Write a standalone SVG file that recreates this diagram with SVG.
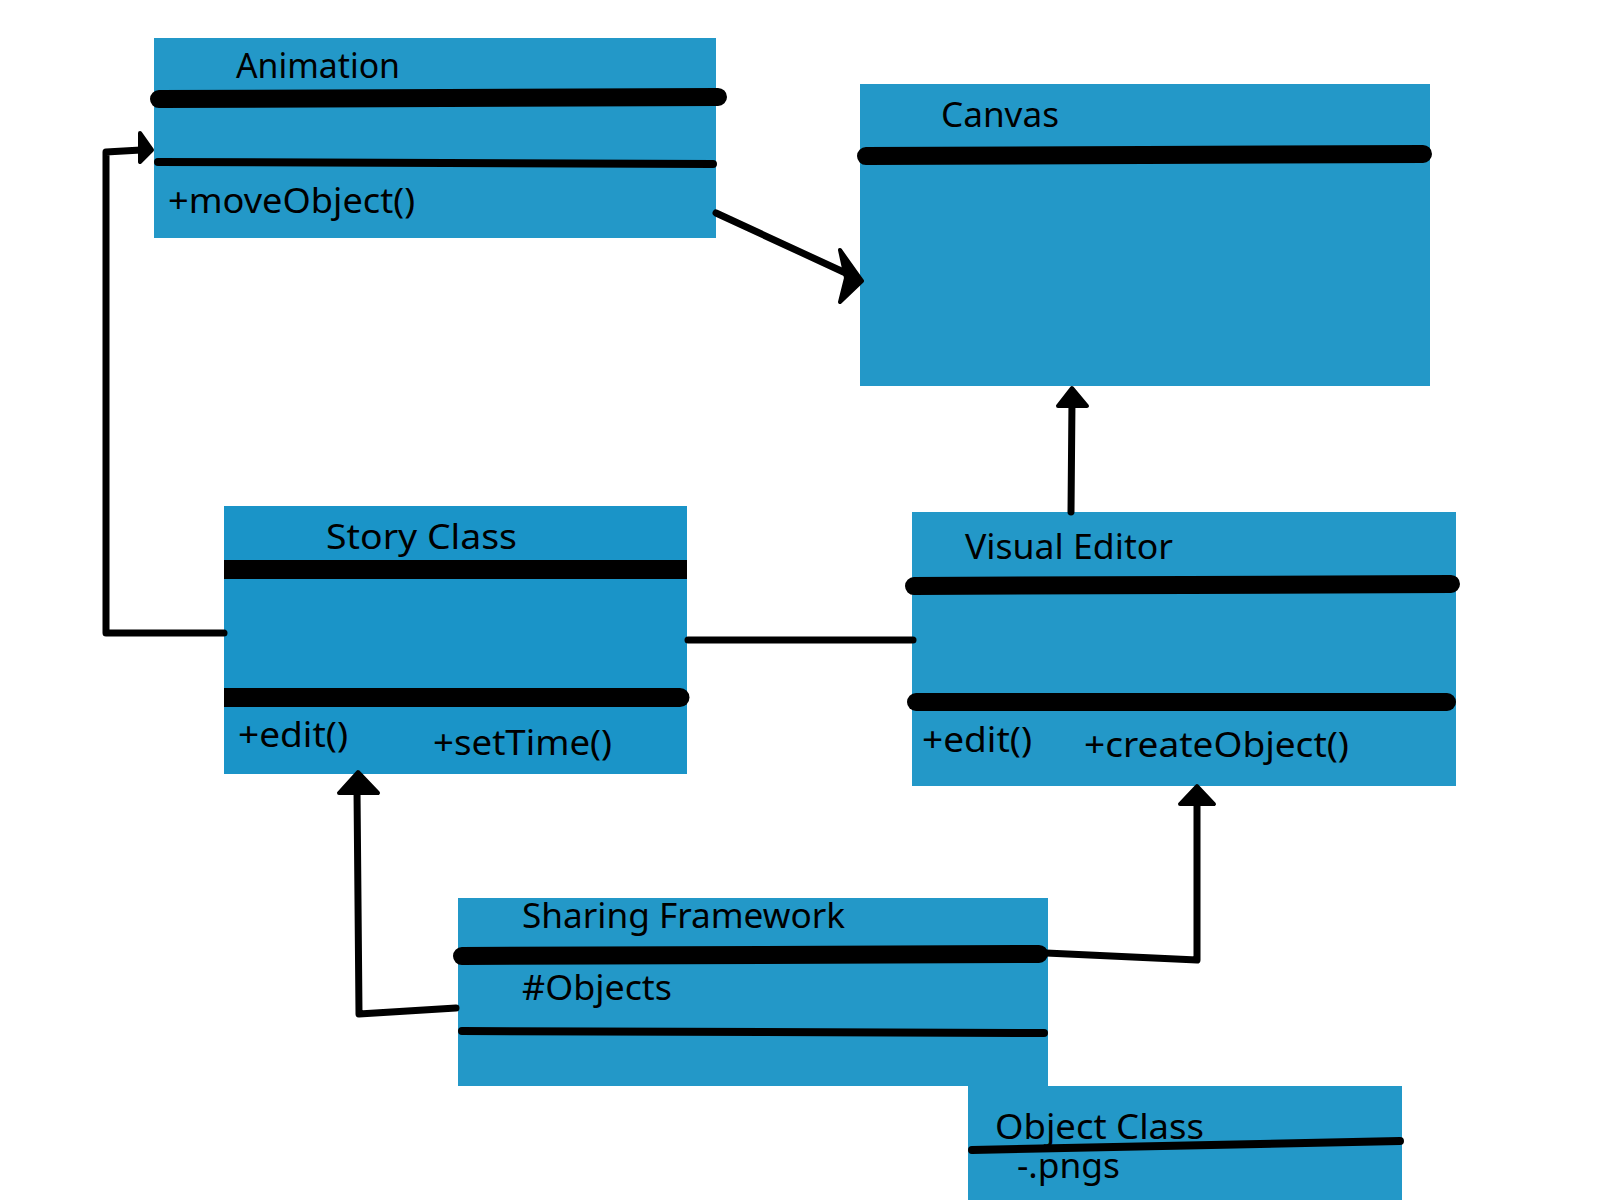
<svg xmlns="http://www.w3.org/2000/svg" width="1600" height="1200" viewBox="0 0 1600 1200">
<style>
.box{fill:#2398c8}
.box2{fill:#1a94c8}
.t{font-family:"Noto Sans","DejaVu Sans",sans-serif;font-size:35px;fill:#000}
.thick{stroke:#000;stroke-width:18;stroke-linecap:round;fill:none}
.thin{stroke:#000;stroke-width:8;stroke-linecap:round;fill:none}
.conn{stroke:#000;stroke-width:7;stroke-linecap:round;stroke-linejoin:round;fill:none}
.head{fill:#000;stroke:#000;stroke-width:4;stroke-linejoin:round}
</style>
<rect width="1600" height="1200" fill="#fff"/>

<g id="animation">
<rect class="box" x="154" y="38" width="562" height="200"/>
<text class="t" x="236" y="78" textLength="164" lengthAdjust="spacingAndGlyphs">Animation</text>
<line class="thick" x1="159" y1="99" x2="718" y2="97"/>
<line class="thin" x1="158" y1="162" x2="713" y2="164"/>
<text class="t" x="168" y="213" textLength="247" lengthAdjust="spacingAndGlyphs">+moveObject()</text>
</g>

<g id="canvas">
<rect class="box" x="860" y="84" width="570" height="302"/>
<text class="t" x="941" y="127" textLength="118" lengthAdjust="spacingAndGlyphs">Canvas</text>
<line class="thick" x1="866" y1="156" x2="1423" y2="154"/>
</g>

<g id="story-class">
<rect class="box2" x="224" y="506" width="463" height="268"/>
<text class="t" x="326" y="549" textLength="191" lengthAdjust="spacingAndGlyphs">Story Class</text>
<rect x="224" y="560" width="463" height="19" fill="#000"/>
<path d="M224 688 H680 A9.5 9.5 0 0 1 680 707 H224 Z" fill="#000"/>
<text class="t" x="238" y="747" textLength="110" lengthAdjust="spacingAndGlyphs">+edit()</text>
<text class="t" x="433" y="755" textLength="179" lengthAdjust="spacingAndGlyphs">+setTime()</text>
</g>

<g id="visual-editor">
<rect class="box" x="912" y="512" width="544" height="274"/>
<text class="t" x="965" y="559" textLength="208" lengthAdjust="spacingAndGlyphs">Visual Editor</text>
<line class="thick" x1="914" y1="586" x2="1451" y2="584"/>
<line class="thick" x1="916" y1="702" x2="1447" y2="702"/>
<text class="t" x="922" y="752" textLength="110" lengthAdjust="spacingAndGlyphs">+edit()</text>
<text class="t" x="1084" y="757" textLength="265" lengthAdjust="spacingAndGlyphs">+createObject()</text>
</g>

<g id="sharing-framework">
<rect class="box" x="458" y="898" width="590" height="188"/>
<text class="t" x="522" y="928" textLength="323" lengthAdjust="spacingAndGlyphs">Sharing Framework</text>
<line class="thick" x1="462" y1="956" x2="1039" y2="954"/>
<text class="t" x="522" y="1000" textLength="150" lengthAdjust="spacingAndGlyphs">#Objects</text>
<line class="thin" x1="462" y1="1031" x2="1044" y2="1033"/>
</g>

<g id="object-class">
<rect class="box" x="968" y="1086" width="434" height="114"/>
<text class="t" x="995" y="1139" textLength="209" lengthAdjust="spacingAndGlyphs">Object Class</text>
<line class="thin" x1="972" y1="1150" x2="1400" y2="1141"/>
<text class="t" x="1017" y="1178" textLength="103" lengthAdjust="spacingAndGlyphs">-.pngs</text>
</g>

<g id="connectors">
<polyline class="conn" points="224,633 106,633 106,152 141,150"/>
<polygon class="head" points="140,133 152,150 140,162"/>
<line class="conn" x1="716" y1="213" x2="850" y2="275"/>
<polygon class="head" points="840,250 862,281 840,302 846,278"/>
<line class="conn" x1="1071" y1="512" x2="1072" y2="400"/>
<polygon class="head" points="1072,388 1087,406 1058,406"/>
<line class="conn" x1="688" y1="640" x2="913" y2="640"/>
<polyline class="conn" points="456,1008 359,1014 357,790"/>
<polygon class="head" points="358,772 378,793 339,793"/>
<polyline class="conn" points="1046,953 1197,960 1197,800"/>
<polygon class="head" points="1197,786 1214,804 1180,804"/>
</g>
</svg>
